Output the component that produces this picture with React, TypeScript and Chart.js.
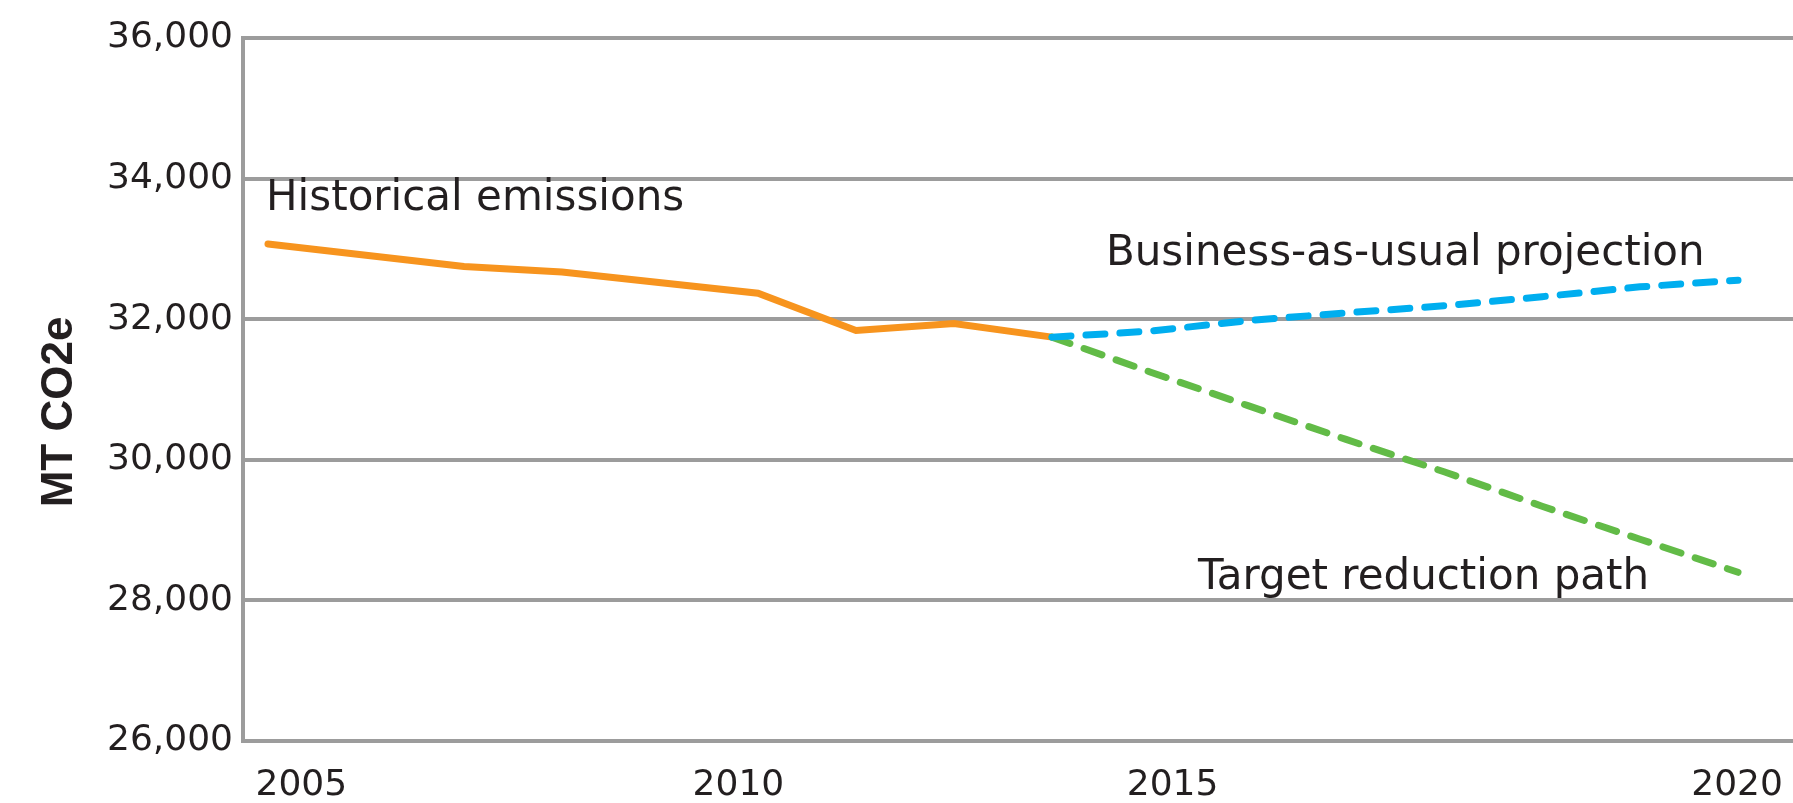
import React, { useEffect, useRef } from 'react';
import { Chart, registerables } from 'chart.js';

Chart.register(...registerables);

// ---- data ----
const historicalYears = [2005, 2007, 2008, 2010, 2011, 2012, 2013];
const historicalValues = [33070, 32750, 32670, 32370, 31840, 31940, 31745];
const projectionYears = [2013, 2014, 2015, 2016, 2017, 2018, 2019, 2020];
const businessAsUsualValues = [31745, 31830, 31980, 32090, 32190, 32320, 32460, 32555];
const targetValues = [31745, 31250, 30770, 30290, 29830, 29340, 28870, 28400];
const yTickValues = [26000, 28000, 30000, 32000, 34000, 36000];
const xTickLabels = ['2005', '2010', '2015', '2020'];
const seriesLabels = ['Historical emissions', 'Business-as-usual projection', 'Target reduction path'];
const yAxisTitle = 'MT CO2e';

// ---- layout (positions in axis units) ----
const X_MIN = 2004.745;
const X_MAX = 2020.561;
const Y_MIN = 26000;
const Y_MAX = 36000;
const xTickPlacement = [2005.34, 2009.8, 2014.23, 2019.99];
const labelAnchors = [
  { x: 2004.98, y: 33552 },
  { x: 2013.55, y: 32769 },
  { x: 2014.49, y: 28157 },
];

// ---- style ----
const TEXT = '#231f20';
const GRID = '#9c9c9c';
const ORANGE = '#f7941e';
const BLUE = '#00aeef';
const GREEN = '#62bb47';

const annotationPlugin = {
  id: 'annotationText',
  afterDraw(chart: any) {
    const { ctx, scales } = chart;
    const xs = scales.x;
    const ys = scales.y;
    ctx.save();
    ctx.fillStyle = TEXT;
    ctx.font = '42px "DejaVu Sans"';
    ctx.textAlign = 'left';
    ctx.textBaseline = 'alphabetic';
    seriesLabels.forEach((t, i) => {
      ctx.fillText(t, xs.getPixelForValue(labelAnchors[i].x), ys.getPixelForValue(labelAnchors[i].y));
    });
    ctx.restore();

    ctx.save();
    ctx.fillStyle = TEXT;
    ctx.font = 'bold 44px "Liberation Sans"';
    ctx.textAlign = 'center';
    ctx.textBaseline = 'alphabetic';
    ctx.translate(72, 412);
    ctx.rotate(-Math.PI / 2);
    ctx.fillText(yAxisTitle, 0, 0);
    ctx.restore();
  },
};

export default function App() {
  const ref = useRef<HTMLCanvasElement>(null);

  useEffect(() => {
    document.body.style.margin = '0';
    const canvas = ref.current;
    if (!canvas) return;

    const chart = new Chart(canvas, {
      type: 'line',
      data: {
        datasets: [
          {
            label: seriesLabels[1],
            data: projectionYears.map((x, i) => ({ x, y: businessAsUsualValues[i] })),
            borderColor: BLUE,
            borderWidth: 7,
            borderDash: [19, 15],
            borderCapStyle: 'round',
            pointRadius: 0,
            tension: 0,
          },
          {
            label: seriesLabels[2],
            data: projectionYears.map((x, i) => ({ x, y: targetValues[i] })),
            borderColor: GREEN,
            borderWidth: 7,
            borderDash: [19, 15],
            borderCapStyle: 'round',
            pointRadius: 0,
            tension: 0,
          },
          {
            label: seriesLabels[0],
            data: historicalYears.map((x, i) => ({ x, y: historicalValues[i] })),
            borderColor: ORANGE,
            borderWidth: 7,
            borderCapStyle: 'round',
            pointRadius: 0,
            tension: 0,
          },
        ],
      },
      options: {
        animation: false,
        responsive: false,
        devicePixelRatio: 1,
        layout: { padding: { top: 38, left: 0, right: 0, bottom: 0 } },
        plugins: {
          legend: { display: false },
          tooltip: { enabled: false },
          title: { display: false },
        },
        scales: {
          x: {
            type: 'linear',
            min: X_MIN,
            max: X_MAX,
            afterBuildTicks: (s: any) => {
              s.ticks = xTickPlacement.map((v) => ({ value: v }));
            },
            afterFit: (s: any) => {
              s.height = 62;
              s.paddingLeft = 0;
              s.paddingRight = 0;
            },
            ticks: {
              autoSkip: false,
              maxRotation: 0,
              padding: 15,
              color: TEXT,
              font: { family: 'DejaVu Sans', size: 36 },
              callback: (_v: any, i: number) => xTickLabels[i],
            },
            grid: { display: false },
            border: { display: false },
          },
          y: {
            type: 'linear',
            min: Y_MIN,
            max: Y_MAX,
            afterBuildTicks: (s: any) => {
              s.ticks = yTickValues.map((v) => ({ value: v }));
            },
            afterFit: (s: any) => {
              s.width = 243;
            },
            ticks: {
              padding: 10,
              color: TEXT,
              font: { family: 'DejaVu Sans', size: 36 },
              callback: (v: any) => Number(v).toLocaleString('en-US'),
            },
            grid: { color: GRID, lineWidth: 4, drawTicks: false },
            border: { display: true, color: GRID, width: 4 },
          },
        },
      },
      plugins: [annotationPlugin],
    } as any);

    return () => chart.destroy();
  }, []);

  return (
    <div style={{ width: 1793, height: 803 }}>
      <canvas ref={ref} width={1793} height={803} style={{ display: 'block' }} />
    </div>
  );
}
